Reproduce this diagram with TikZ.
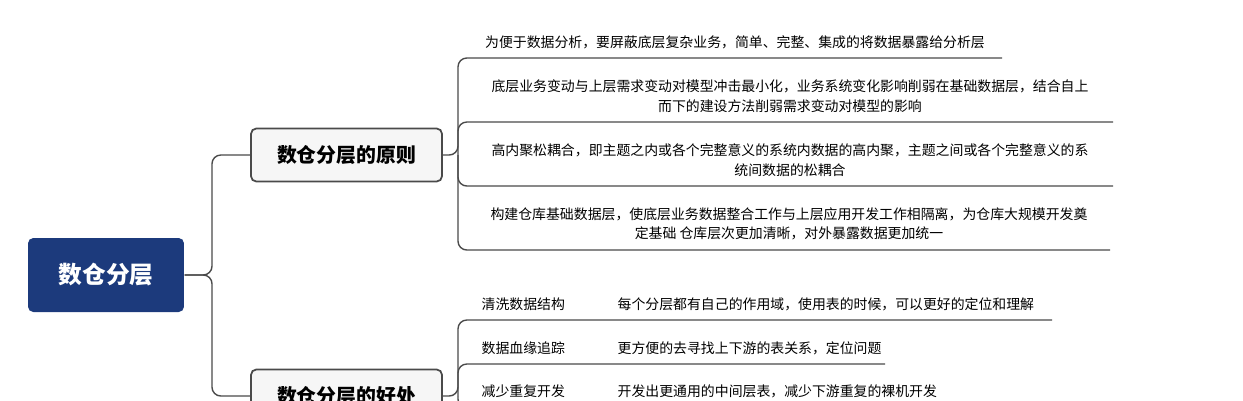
\documentclass[tikz,border=0pt]{standalone}
\usepackage{fontspec}
\setmainfont{Noto Sans CJK SC}
\usetikzlibrary{positioning}
\definecolor{rootblue}{HTML}{1C3A7C}
\definecolor{linegray}{HTML}{4A4A4A}
\begin{document}
\begin{tikzpicture}
[x=0.02cm,y=-0.02cm,line width=0.8pt,draw=linegray]
\tikzstyle{rootbox}=[rectangle,rounded corners=3pt,fill=rootblue,text=white,font=\fontsize{13.5}{16}\selectfont\bfseries,minimum width=3.12cm,minimum height=1.48cm]
\tikzstyle{topicbox}=[rectangle,rounded corners=3pt,draw=linegray,fill=gray!7,line width=1pt,font=\fontsize{11.3}{14}\selectfont\bfseries,minimum width=3.82cm,minimum height=1.06cm]
\tikzstyle{leaf}=[font=\fontsize{7.9}{11.2}\selectfont,align=center,inner sep=0pt]
\tikzstyle{wire}=[draw=linegray,line width=0.8pt,rounded corners=5pt]
\useasboundingbox (0,0) rectangle (1243,400);
\node[rootbox] (root) at (106,275) {数仓分层};
\node[topicbox] (rule) at (346.5,155) {数仓分层的原则};
\node[topicbox] (gain) at (346.5,396) {数仓分层的好处};
% root to topics
\draw[wire] (root.east) -- (212,275) |- (rule.west);
\draw[wire] (root.east) -- (212,275) |- (gain.west);
% principles
\node[leaf] (r1) at (735,42) {为便于数据分析，要屏蔽底层复杂业务，简单、完整、集成的将数据暴露给分析层};
\node[leaf] (r2) at (790,96) {底层业务变动与上层需求变动对模型冲击最小化，业务系统变化影响削弱在基础数据层，结合自上\\而下的建设方法削弱需求变动对模型的影响};
\node[leaf] (r3) at (790,160) {高内聚松耦合，即主题之内或各个完整意义的系统内数据的高内聚，主题之间或各个完整意义的系\\统间数据的松耦合};
\node[leaf] (r4) at (789,224) {构建仓库基础数据层，使底层业务数据整合工作与上层应用开发工作相隔离，为仓库大规模开发奠\\定基础 仓库层次更加清晰，对外暴露数据更加统一};
\coordinate (rj) at (458,155);
\draw[wire] (rule.east) -- (rj) |- (1002,58);
\draw[wire] (rj) |- (1113,122);
\draw[wire] (rj) |- (1113,186);
\draw[wire] (rj) |- (1110,250);
% benefits
\node[leaf,anchor=west] (g1) at (481,304) {清洗数据结构};
\node[leaf,anchor=west] (d1) at (617,304) {每个分层都有自己的作用域，使用表的时候，可以更好的定位和理解};
\node[leaf,anchor=west] (g2) at (481,348) {数据血缘追踪};
\node[leaf,anchor=west] (d2) at (617,348) {更方便的去寻找上下游的表关系，定位问题};
\node[leaf,anchor=west] (g3) at (481,391) {减少重复开发};
\node[leaf,anchor=west] (d3) at (617,391) {开发出更通用的中间层表，减少下游重复的裸机开发};
\coordinate (gj) at (458,396);
\draw[wire] (gain.east) -- (gj) |- (1052,320);
\draw[wire] (gj) |- (885,364);
\draw[wire] (gj) |- (960,408);
\end{tikzpicture}
\end{document}
